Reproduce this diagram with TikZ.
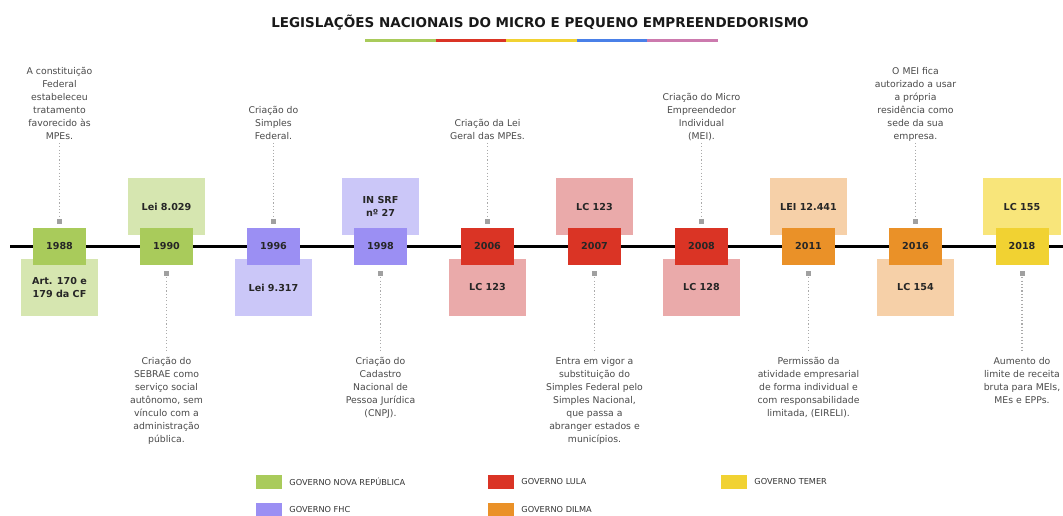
\documentclass[tikz,border=0pt]{standalone}
\usepackage{fontspec}
\setmainfont{DejaVu Sans}
\definecolor{gD}{HTML}{A9CB5B}\definecolor{gL}{HTML}{D6E6B0}
\definecolor{pD}{HTML}{9B8FF3}\definecolor{pL}{HTML}{CBC7F8}
\definecolor{rD}{HTML}{DA3425}\definecolor{rL}{HTML}{EAAAAA}
\definecolor{oD}{HTML}{EA9128}\definecolor{oL}{HTML}{F6D0A8}
\definecolor{yD}{HTML}{F1D232}\definecolor{yL}{HTML}{F8E57A}
\definecolor{bB}{HTML}{4A80E8}\definecolor{pk}{HTML}{CC7AAE}
\definecolor{txtgray}{HTML}{4A4A4A}\definecolor{mkgray}{HTML}{A0A0A0}
\definecolor{dotgray}{HTML}{AAAAAA}
\tikzset{
 yr/.style={minimum width=53pt, minimum height=37pt, inner sep=0, font=\bfseries\fontsize{9.6}{11}\selectfont, text=black!85},
 lb/.style={minimum width=77.5pt, minimum height=57pt, inner sep=0, align=center, font=\bfseries\fontsize{9.6}{13}\selectfont, text=black!85},
 note/.style={align=center, inner sep=0, font=\fontsize{9.3}{13}\selectfont, text=txtgray},
 topnote/.style={note, anchor=south, text depth=0pt},
 botnote/.style={note, anchor=north},
 mk/.style={fill=mkgray, minimum size=5pt, inner sep=0},
 dotl/.style={draw=dotgray, line width=1.1pt, dash pattern=on 1.1pt off 2.2pt},
 legsq/.style={minimum width=26pt, minimum height=14pt, inner sep=0},
 legtx/.style={anchor=west, inner sep=0, font=\fontsize{8.2}{9}\selectfont, text=black!80},
 barseg/.style={line width=3pt},
}
\begin{document}
\begin{tikzpicture}[x=1pt,y=-1pt]
\useasboundingbox[fill=white] (0,0) rectangle (1063,516);
% title
\node[font=\bfseries\fontsize{13.5}{15}\selectfont, text=black!90] (title) at (540,23) {LEGISLAÇÕES NACIONAIS DO MICRO E PEQUENO EMPREENDEDORISMO};
\coordinate (b0) at (365,41);\coordinate (b1) at (435.6,41);\coordinate (b2) at (506.2,41);
\coordinate (b3) at (576.8,41);\coordinate (b4) at (647.4,41);\coordinate (b5) at (718,41);
\draw[barseg,gD] (b0) -- (b1);
\draw[barseg,rD] (b1) -- (b2);
\draw[barseg,yD] (b2) -- (b3);
\draw[barseg,bB] (b3) -- (b4);
\draw[barseg,pk] (b4) -- (b5);
% timeline
\coordinate (tlL) at (10,246.5);\coordinate (tlR) at (1063,246.5);
\draw[line width=2.2pt] (tlL) -- (tlR);
% light boxes
\node[lb,fill=gL] (l1988) at (59.5,287.5) {Art. 170 e\\179 da CF};
\node[lb,fill=gL] (l1990) at (166.5,206.6) {Lei 8.029};
\node[lb,fill=pL] (l1996) at (273.5,287.5) {Lei 9.317};
\node[lb,fill=pL] (l1998) at (380.5,206.6) {IN SRF\\nº 27};
\node[lb,fill=rL] (l2006) at (487.5,287.5) {LC 123};
\node[lb,fill=rL] (l2007) at (594.5,206.6) {LC 123};
\node[lb,fill=rL] (l2008) at (701.5,287.5) {LC 128};
\node[lb,fill=oL] (l2011) at (808.5,206.6) {LEI 12.441};
\node[lb,fill=oL] (l2016) at (915.5,287.5) {LC 154};
\node[lb,fill=yL] (l2018) at (1022,206.6) {LC 155};
% year boxes
\node[yr,fill=gD] (y1988) at (59.5,246.5) {1988};
\node[yr,fill=gD] (y1990) at (166.5,246.5) {1990};
\node[yr,fill=pD] (y1996) at (273.5,246.5) {1996};
\node[yr,fill=pD] (y1998) at (380.5,246.5) {1998};
\node[yr,fill=rD] (y2006) at (487.5,246.5) {2006};
\node[yr,fill=rD] (y2007) at (594.5,246.5) {2007};
\node[yr,fill=rD] (y2008) at (701.5,246.5) {2008};
\node[yr,fill=oD] (y2011) at (808.5,246.5) {2011};
\node[yr,fill=oD] (y2016) at (915.5,246.5) {2016};
\node[yr,fill=yD] (y2018) at (1022,246.5) {2018};
% markers
\node[mk] (m1988) at (59.5,221) {};
\node[mk] (m1990) at (166.5,273) {};
\node[mk] (m1996) at (273.5,221) {};
\node[mk] (m1998) at (380.5,273) {};
\node[mk] (m2006) at (487.5,221) {};
\node[mk] (m2007) at (594.5,273) {};
\node[mk] (m2008) at (701.5,221) {};
\node[mk] (m2011) at (808.5,273) {};
\node[mk] (m2016) at (915.5,221) {};
\node[mk] (m2018) at (1022,273) {};
% notes above
\node[topnote] (t1988) at (59.5,140) {A constituição\\Federal\\estabeleceu\\tratamento\\favorecido às\\MPEs.};
\node[topnote] (t1996) at (273.5,140) {Criação do\\Simples\\Federal.};
\node[topnote] (t2006) at (487.5,140) {Criação da Lei\\Geral das MPEs.};
\node[topnote] (t2008) at (701.5,140) {Criação do Micro\\Empreendedor\\Individual\\(MEI).};
\node[topnote] (t2016) at (915.5,140) {O MEI fica\\autorizado a usar\\a própria\\residência como\\sede da sua\\empresa.};
% notes below
\node[botnote] (t1990) at (166.5,357) {Criação do\\SEBRAE como\\serviço social\\autônomo, sem\\vínculo com a\\administração\\pública.};
\node[botnote] (t1998) at (380.5,357) {Criação do\\Cadastro\\Nacional de\\Pessoa Jurídica\\(CNPJ).};
\node[botnote] (t2007) at (594.5,357) {Entra em vigor a\\substituição do\\Simples Federal pelo\\Simples Nacional,\\que passa a\\abranger estados e\\municípios.};
\node[botnote] (t2011) at (808.5,357) {Permissão da\\atividade empresarial\\de forma individual e\\com responsabilidade\\limitada, (EIRELI).};
\node[botnote] (t2018) at (1022,357) {Aumento do\\limite de receita\\bruta para MEIs,\\MEs e EPPs.};
% dotted connectors
\foreach \t/\m in {t1988/m1988,t1996/m1996,t2006/m2006,t2008/m2008,t2016/m2016}
  \draw[dotl, shorten <=3pt, shorten >=1.5pt] (\t.south) -- (\m.north);
\foreach \m/\t in {m1990/t1990,m1998/t1998,m2007/t2007,m2011/t2011,m2018/t2018}
  \draw[dotl, shorten <=1.5pt, shorten >=6pt] (\m.south) -- (\t.north);
% legend
\node[legsq,fill=gD] (q1) at (269,482) {};
\node[legtx] (x1) at ([xshift=7pt]q1.east) {GOVERNO NOVA REPÚBLICA};
\node[legsq,fill=rD] (q2) at (501,482) {};
\node[legtx] (x2) at ([xshift=7pt]q2.east) {GOVERNO LULA};
\node[legsq,fill=yD] (q3) at (734,482) {};
\node[legtx] (x3) at ([xshift=7pt]q3.east) {GOVERNO TEMER};
\node[legsq,fill=pD] (q4) at (269,510) {};
\node[legtx] (x4) at ([xshift=7pt]q4.east) {GOVERNO FHC};
\node[legsq,fill=oD] (q5) at (501,510) {};
\node[legtx] (x5) at ([xshift=7pt]q5.east) {GOVERNO DILMA};
\end{tikzpicture}
\end{document}
